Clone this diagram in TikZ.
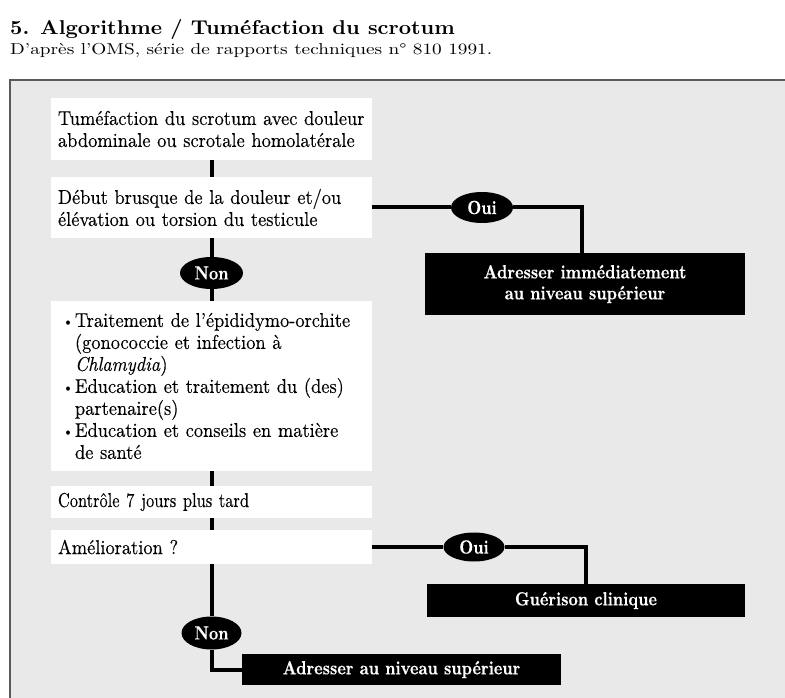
\documentclass[tikz,border=0pt]{standalone}
\usepackage{fontspec}
\setmainfont{lmroman10-regular.otf}[FakeStretch=0.92, FakeBold=0.2, BoldFont=lmroman10-bold.otf, ItalicFont=lmroman10-italic.otf, ItalicFeatures={FakeBold=0.2}]
\newfontfamily\blackfont{lmroman10-bold.otf}[FakeStretch=0.85, FakeBold=0.4]
\newfontfamily\titlefont{lmroman10-bold.otf}[FakeStretch=1.07]
\newfontfamily\subfont{lmroman10-regular.otf}[FakeStretch=1.22]
\newfontfamily\condfont{lmroman10-regular.otf}[FakeStretch=0.82, FakeBold=0.2]
\usetikzlibrary{shapes.geometric}
\definecolor{bggray}{RGB}{233,233,233}
\definecolor{framegray}{RGB}{90,90,90}
\newcommand{\bul}{\hspace*{5pt}\makebox[12pt][l]{\raisebox{1pt}{\fontsize{14}{14}\selectfont\textbullet}}}
\newcommand{\ind}{\hspace*{17pt}}
\begin{document}
\begin{tikzpicture}[x=1pt,y=-1pt,
  whitebox/.style={fill=white, inner xsep=7pt, inner ysep=0pt, text width=307pt, align=left, font=\fontsize{20}{22}\selectfont},
  blackbox/.style={fill=black, text=white, inner sep=0pt, align=center, font=\blackfont\fontsize{19}{21}\selectfont},
  answer/.style={ellipse, fill=black, text=white, inner sep=0pt, font=\blackfont\fontsize{19}{21}\selectfont},
  conn/.style={line width=4pt, black}]
\useasboundingbox (0,0) rectangle (785,698);
\fill[white] (0,0) rectangle (785,698);
\fill[bggray] (10,80) rectangle (790,703);
\draw[framegray, line width=1.2pt] (10,703) -- (10,80) -- (790,80);
\node[anchor=base west, inner sep=0pt, font=\titlefont\fontsize{20}{22}\selectfont] (title) at (10,35) {5. Algorithme / Tuméfaction du scrotum};
\node[anchor=base west, inner sep=0pt, font=\subfont\fontsize{15.8}{18}\selectfont] (subtitle) at (10,55) {D’après l’OMS, série de rapports techniques n° 810 1991.};
% white boxes
\node[whitebox, minimum height=62pt] (b1) at (211.5,129) {Tuméfaction du scrotum avec douleur\\abdominale ou scrotale homolatérale};
\node[whitebox, minimum height=61pt] (b2) at (211.5,207.5) {Début brusque de la douleur et/ou\\élévation ou torsion du testicule};
\node[whitebox, minimum height=170pt] (b3) at (211.5,386) {\bul Traitement de l’épididymo-orchite\\\ind(gonococcie et infection à\\\ind\textit{Chlamydia})\\\bul Education et traitement du (des)\\\ind partenaire(s)\\\bul Education et conseils en matière\\\ind de santé};
\node[whitebox, minimum height=32pt, font=\condfont\fontsize{20}{22}\selectfont] (b4) at (211.5,502) {Contrôle 7 jours plus tard};
\node[whitebox, minimum height=34pt] (b5) at (211.5,547) {Amélioration ?};
% answers
\node[answer, minimum width=63pt, minimum height=32pt] (non1) at (211.5,273) {Non};
\node[answer, minimum width=62pt, minimum height=31pt] (oui1) at (482,207.5) {Oui};
\node[answer, minimum width=61pt, minimum height=29pt] (oui2) at (474,547) {Oui};
\node[answer, minimum width=60pt, minimum height=33pt] (non2) at (211.5,633) {Non};
% black boxes
\node[blackbox, minimum width=320pt, minimum height=62pt] (adr1) at (585,284) {Adresser immédiatement\\au niveau supérieur};
\node[blackbox, minimum width=318pt, minimum height=33pt] (guer) at (586,600.5) {Guérison clinique};
\node[blackbox, minimum width=319pt, minimum height=31pt] (adr2) at (401.5,669.5) {Adresser au niveau supérieur};
% connectors
\draw[conn] (b1.south) -- (b2.north);
\draw[conn] (b2.south) -- (non1.north);
\draw[conn] (non1.south) -- (b3.north);
\draw[conn] (b3.south) -- (b4.north);
\draw[conn] (b4.south) -- (b5.north);
\draw[conn] (b2.east) -- (oui1.west);
\draw[conn] (oui1.east) -| ([xshift=-3pt]adr1.north);
\draw[conn] (b5.east) -- (oui2.west);
\draw[conn] (oui2.east) -| (guer.north);
\draw[conn] (b5.south) -- (non2.north);
\draw[conn] (non2.south) |- (adr2.west);
\end{tikzpicture}
\end{document}
